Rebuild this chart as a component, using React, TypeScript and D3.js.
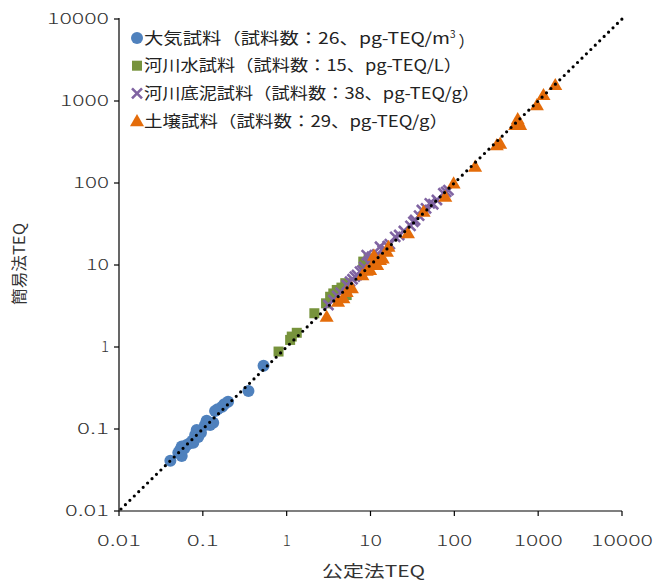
import React from "react";
import * as d3 from "d3";

// 公定法TEQ (x) / 簡易法TEQ (y)
const airX = [0.53, 0.35, 0.2, 0.18, 0.17, 0.15, 0.14, 0.133, 0.111, 0.106, 0.122, 0.0845, 0.081, 0.088, 0.077, 0.07, 0.064, 0.056, 0.0535, 0.051, 0.056, 0.041, 0.095, 0.075, 0.12, 0.06];
const airY = [0.59, 0.29, 0.215, 0.2, 0.187, 0.174, 0.166, 0.119, 0.126, 0.112, 0.112, 0.097, 0.0846, 0.08, 0.068, 0.067, 0.064, 0.061, 0.0555, 0.0514, 0.047, 0.041, 0.09, 0.072, 0.118, 0.058];

const waterX = [0.8, 1.1, 1.15, 1.32, 2.14, 2.95, 3.3, 3.6, 3.96, 4.5, 5.0, 5.2, 8.2, 8.6, 9.5];
const waterY = [0.88, 1.22, 1.34, 1.49, 2.58, 3.41, 4.1, 4.5, 4.96, 5.3, 6.0, 4.3, 11, 10.5, 12];

const sedimentX = [3.15, 3.6, 4.0, 4.4, 5.2, 5.7, 6.1, 6.9, 7.5, 8.0, 8.4, 9.0, 9.5, 10.4, 11, 12, 13, 14, 15, 16, 17, 19.7, 22, 25, 30, 32.5, 34, 38, 41, 46, 51, 56, 62, 74, 80, 85, 6.5, 10];
const sedimentY = [3.25, 3.74, 4.2, 4.6, 5.7, 6.26, 6.7, 7.55, 8.3, 8.6, 9.5, 13.2, 10.5, 12.6, 11.5, 13.5, 16.7, 15, 15.5, 17, 18, 22, 23.2, 26, 30, 33.7, 35.4, 40, 46.8, 49, 56.5, 55, 62, 75, 78, 82, 7.2, 11];

const soilX = [3.0, 4.1, 4.75, 5.2, 6.0, 8.0, 9.0, 9.9, 10.8, 11, 12, 13, 14, 15.7, 16.4, 28, 43, 78, 98, 177, 321, 352, 532, 570, 582, 610, 966, 1157, 1600];
const soilY = [2.34, 3.57, 3.93, 4.7, 5.2, 7.5, 8.5, 8.7, 10.5, 13, 10, 11.5, 12, 14.5, 16.7, 24.4, 44.7, 68, 99, 158, 290, 302, 510, 600, 560, 510, 891, 1183, 1567];

const ticks = [0.01, 0.1, 1, 10, 100, 1000, 10000];
const tickLabels = ["0.01", "0.1", "1", "10", "100", "1000", "10000"];

const legendLabels = [
  "大気試料（試料数：26、pg-TEQ/m",
  "河川水試料（試料数：15、pg-TEQ/L）",
  "河川底泥試料（試料数：38、pg-TEQ/g）",
  "土壌試料（試料数：29、pg-TEQ/g）",
];
const legendWidths = [326, 318, 336, 304];

const colors = ["#4F81BD", "#77933C", "#8064A2", "#E46C0A"];
const font = "'Noto Sans CJK JP', 'Noto Sans', sans-serif";

const W = 659;
const H = 581;
const left = 119;
const right = 622;
const top = 19;
const bottom = 511;

const x = d3.scaleLog().domain([0.01, 10000]).range([left, right]);
const y = d3.scaleLog().domain([0.01, 10000]).range([bottom, top]);

const tri = d3.symbol().type(d3.symbolTriangle).size(85)();

function labelWidth(s: string) {
  if (s.length === 1) return undefined;
  if (s.includes(".")) return s.length === 4 ? 44 : 32;
  return 13 * s.length - 3;
}

function Marker({ kind, cx, cy }: { kind: number; cx: number; cy: number }) {
  if (kind === 0) return <circle cx={cx} cy={cy} r={6} fill={colors[0]} />;
  if (kind === 1) return <rect x={cx - 5} y={cy - 5} width={10} height={10} fill={colors[1]} />;
  if (kind === 2)
    return (
      <path
        d={`M${cx - 5},${cy - 5}L${cx + 5},${cy + 5}M${cx - 5},${cy + 5}L${cx + 5},${cy - 5}`}
        stroke={colors[2]}
        strokeWidth={2.6}
        fill="none"
      />
    );
  return <path d={tri as string} transform={`translate(${cx},${cy + 1})`} fill={colors[3]} />;
}

export default function App() {
  const series = [
    [airX, airY],
    [waterX, waterY],
    [sedimentX, sedimentY],
    [soilX, soilY],
  ];
  return (
    <svg width={W} height={H} style={{ display: "block", position: "absolute", left: 0, top: 0 }}>
      <rect width={W} height={H} fill="#fff" />
      {series.map(([xs, ys], k) => (
        <g key={k}>
          {xs.map((v, i) => (
            <Marker key={i} kind={k} cx={x(v)} cy={y(ys[i])} />
          ))}
        </g>
      ))}
      <line
        x1={x(0.01) + 2}
        y1={y(0.01) - 2}
        x2={x(10000)}
        y2={y(10000)}
        stroke="#000"
        strokeWidth={3.2}
        strokeDasharray="0 6.2"
        strokeLinecap="round"
      />
      {/* axes */}
      <line x1={left} y1={top - 1} x2={left} y2={bottom} stroke="#000" strokeWidth={1.2} />
      <line x1={left} y1={bottom} x2={right} y2={bottom} stroke="#000" strokeWidth={1.2} />
      {ticks.map((t, i) => (
        <g key={i}>
          <line x1={left - 5} x2={left} y1={y(t)} y2={y(t)} stroke="#000" strokeWidth={1.2} />
          <text
            x={left - 10}
            y={y(t)}
            dy="0.36em"
            textAnchor="end"
            fontSize={15}
            fontWeight={300}
            fill="#333"
            fontFamily={font}
            textLength={labelWidth(tickLabels[i])}
            lengthAdjust="spacingAndGlyphs"
          >
            {tickLabels[i]}
          </text>
          <line x1={x(t)} x2={x(t)} y1={bottom} y2={bottom + 5} stroke="#000" strokeWidth={1.2} />
          <text
            x={x(t)}
            y={bottom + 35}
            textAnchor="middle"
            fontSize={15}
            fontWeight={300}
            fill="#333"
            fontFamily={font}
            textLength={labelWidth(tickLabels[i])}
            lengthAdjust="spacingAndGlyphs"
          >
            {tickLabels[i]}
          </text>
        </g>
      ))}
      <text
        x={322}
        y={577}
        fontSize={16}
        fill="#333"
        fontFamily={font}
        textLength={103}
        lengthAdjust="spacingAndGlyphs"
      >
        公定法TEQ
      </text>
      <text
        transform={`translate(25,${(top + bottom) / 2 + 40}) rotate(-90)`}
        fontSize={16}
        fill="#333"
        fontFamily={font}
        textLength={82}
        lengthAdjust="spacingAndGlyphs"
      >
        簡易法TEQ
      </text>
      {/* legend */}
      {legendLabels.map((label, i) => {
        const ly = 38 + i * 27.7;
        return (
          <g key={i}>
            <Marker kind={i} cx={137} cy={ly} />
            {i === 0 ? (
              <text x={144} y={ly} dy="0.36em" fontSize={16} fill="#222" fontFamily={font}>
                <tspan textLength={legendWidths[0] - 20} lengthAdjust="spacingAndGlyphs">{label}</tspan>
                <tspan fontSize={10} dy="-0.55em">3</tspan>
                <tspan dy="0.55em" dx={3}>）</tspan>
              </text>
            ) : (
              <text
                x={144}
                y={ly}
                dy="0.36em"
                fontSize={16}
                fill="#222"
                fontFamily={font}
                textLength={legendWidths[i]}
                lengthAdjust="spacingAndGlyphs"
              >
                {label}
              </text>
            )}
          </g>
        );
      })}
    </svg>
  );
}
